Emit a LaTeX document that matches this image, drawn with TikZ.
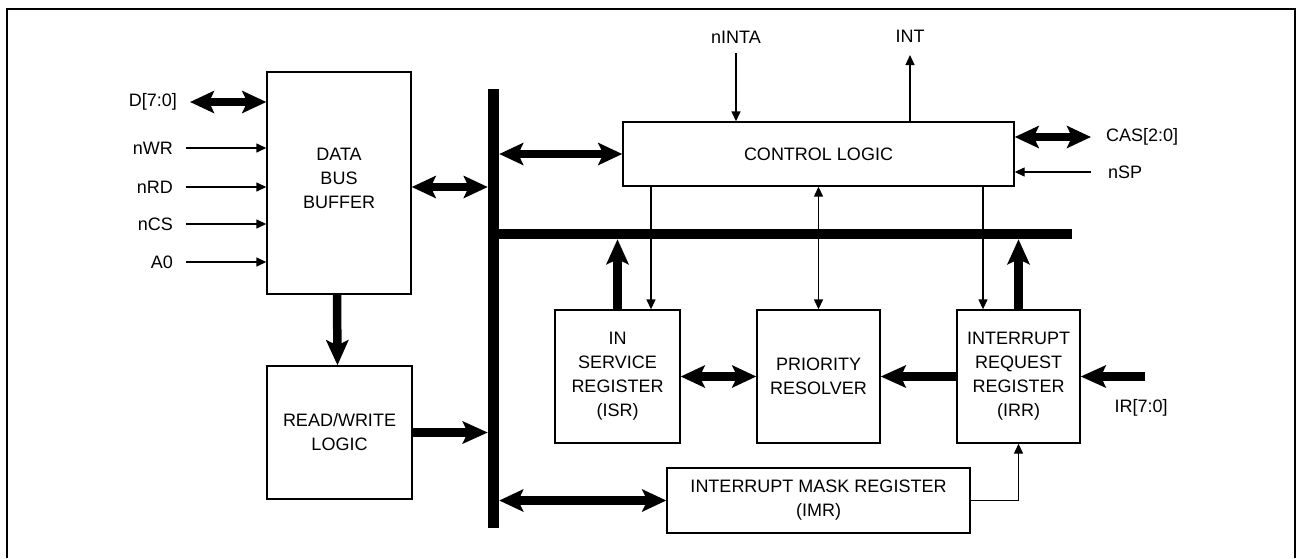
\documentclass[tikz,border=0pt]{standalone}
\usepackage{fontspec}
\setmainfont{Liberation Sans}
\usetikzlibrary{arrows.meta,calc}
\begin{document}
\begin{tikzpicture}[x=1pt,y=-1pt,
  lbl/.style={inner sep=0pt, font=\fontsize{18}{24}\selectfont, align=center},
  box/.style={draw, line width=1.4pt, inner sep=0pt, align=center, font=\fontsize{18}{24}\selectfont},
  bar/.style={fill=black, draw=none, inner sep=0pt},
  thinarr/.style={line width=1.4pt, -{Triangle[length=10pt,width=9pt]}},
  thindbl/.style={line width=1.4pt, {Triangle[length=10pt,width=9pt]}-{Triangle[length=10pt,width=9pt]}},
  bigarr/.style={line width=8.5pt, -{Stealth[length=25pt,width=22pt,inset=5pt]}},
  bigdbl/.style={line width=8.5pt, {Stealth[length=24pt,width=22pt,inset=5pt]}-{Stealth[length=24pt,width=22pt,inset=5pt]}}
]
\useasboundingbox (0,0) rectangle (1301,558);
% frame
\draw[line width=2.6pt] (7,558) -- (7,9) -- (1295,9) -- (1295,558);

% buses
\node[bar, minimum width=11pt, minimum height=439pt] (vbus) at (493.5,308.5) {};
\node[bar, minimum width=573pt, minimum height=10pt] (hbus) at (785.5,234) {};

% blocks
\node[box, minimum width=144pt, minimum height=222pt] (dbb) at (339,183) {};
\node[lbl] (dbbT) at (339,178) {DATA\\BUS\\BUFFER};
\node[box, minimum width=145pt, minimum height=133pt] (rw) at (339.5,432.5) {READ/WRITE\\LOGIC};
\node[box, minimum width=391pt, minimum height=64pt] (cl) at (818.5,154) {CONTROL LOGIC};
\node[box, minimum width=125pt, minimum height=133pt] (isr) at (617.5,376.5) {IN\\SERVICE\\REGISTER\\(ISR)};
\node[box, minimum width=123pt, minimum height=133pt] (pr) at (818.5,376.5) {PRIORITY\\RESOLVER};
\node[box, minimum width=123pt, minimum height=133pt] (irr) at (1018.5,376.5) {INTERRUPT\\REQUEST\\REGISTER\\(IRR)};
\node[box, minimum width=303pt, minimum height=65pt] (imr) at (818.5,500.5) {INTERRUPT MASK REGISTER\\(IMR)};

% signal labels
\node[lbl, anchor=east] (dL) at (177,102) {D[7:0]};
\node[lbl, anchor=east] (wrL) at (173,148) {nWR};
\node[lbl, anchor=east] (rdL) at (173,187) {nRD};
\node[lbl, anchor=east] (csL) at (173,224) {nCS};
\node[lbl, anchor=east] (a0L) at (173,262) {A0};
\node[lbl, anchor=base] (intaL) at (736,43) {nINTA};
\node[lbl, anchor=base] (intL) at (910,42) {INT};
\node[lbl, anchor=west] (casL) at (1106,137) {CAS[2:0]};
\node[lbl, anchor=west] (spL) at (1108,172) {nSP};
\node[lbl] (irL) at (1141,408) {IR[7:0]};

% free ends
\coordinate (dS) at (190,102);
\coordinate (wrS) at (186,148);
\coordinate (rdS) at (186,187);
\coordinate (csS) at (186,224);
\coordinate (a0S) at (186,262);
\coordinate (intaS) at (736,53);
\coordinate (intE) at (910,55);
\coordinate (casE) at (1091,137);
\coordinate (spS) at (1091,172);
\coordinate (irS) at (1145,376.5);

% left inputs
\draw[bigdbl] (dS) -- (dS -| dbb.west);
\draw[thinarr] (wrS) -- (wrS -| dbb.west);
\draw[thinarr] (rdS) -- (rdS -| dbb.west);
\draw[thinarr] (csS) -- (csS -| dbb.west);
\draw[thinarr] (a0S) -- (a0S -| dbb.west);

% data bus buffer and read/write
\draw[bigdbl] ([yshift=-4pt]dbb.east) -- ([yshift=-4pt]dbb.east -| vbus.west);
\draw[bigarr] ([xshift=-2pt]dbb.south) -- ([xshift=-2pt]rw.north);
\draw[bigarr] (rw.east) -- (rw.east -| vbus.west);

% bus to control logic and IMR
\draw[bigdbl] (cl.west -| vbus.east) -- (cl.west);
\draw[bigdbl] (imr.west -| vbus.east) -- (imr.west);

% control logic signals
\draw[thinarr] (intaS) -- (intaS |- cl.north);
\draw[thinarr] (intE |- cl.north) -- (intE);
\draw[bigdbl] ([yshift=17pt]cl.east) -- (casE);
\draw[thinarr] (spS) -- (spS -| cl.east);

% control logic to registers
\draw[thinarr] ([xshift=33.5pt]isr.north |- cl.south) -- ([xshift=33.5pt]isr.north);
\draw[thindbl] (pr.north |- cl.south) -- (pr.north);
\draw[thinarr] ([xshift=-35.5pt]irr.north |- cl.south) -- ([xshift=-35.5pt]irr.north);

% registers to internal bus
\draw[bigarr] (isr.north) -- (isr.north |- hbus.south);
\draw[bigarr] (irr.north) -- (irr.north |- hbus.south);

% register chain
\draw[bigdbl] (isr.east) -- (pr.west);
\draw[bigarr] (irr.west) -- (pr.east);
\draw[bigarr] (irS) -- (irr.east);
\draw[thinarr] (imr.east) -| (irr.south);
\end{tikzpicture}
\end{document}
